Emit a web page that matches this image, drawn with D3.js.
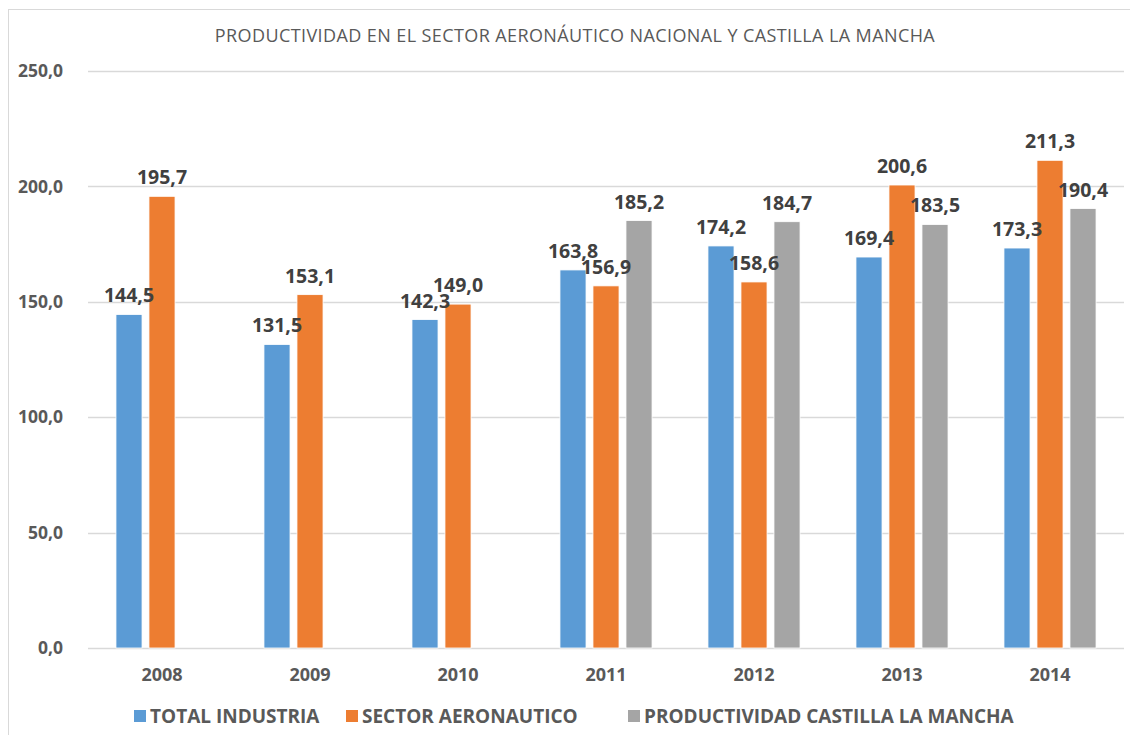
<!DOCTYPE html>
<html>
<head>
<meta charset="utf-8">
<script src="https://cdn.jsdelivr.net/npm/d3@7"></script>
<style>
  body { margin: 0; background: #fff; }
  svg { display: block; font-family: "Open Sans", "Noto Sans", sans-serif; }
</style>
</head>
<body>
<div id="chart"></div>
<script>
// Chart data
const years = ["2008", "2009", "2010", "2011", "2012", "2013", "2014"];
const seriesNames = ["TOTAL INDUSTRIA", "SECTOR AERONAUTICO", "PRODUCTIVIDAD CASTILLA LA MANCHA"];
const totalIndustria = [144.5, 131.5, 142.3, 163.8, 174.2, 169.4, 173.3];
const sectorAeronautico = [195.7, 153.1, 149.0, 156.9, 158.6, 200.6, 211.3];
const castillaLaMancha = [null, null, null, 185.2, 184.7, 183.5, 190.4];
const yTicks = [0, 50, 100, 150, 200, 250];
const colors = ["#5B9BD5", "#ED7D31", "#A5A5A5"];

const width = 1130, height = 735;
const margin = { top: 71, right: 6, bottom: 87, left: 88 };

const svg = d3.select("#chart")
  .append("svg")
  .attr("width", width)
  .attr("height", height);

// Outer frame
svg.append("rect")
  .attr("x", 8.5).attr("y", 9.5)
  .attr("width", width).attr("height", height)
  .attr("fill", "none")
  .attr("stroke", "#d9d9d9")
  .attr("stroke-width", 1);

const fmt = v => d3.format(".1f")(v).replace(".", ",");

const x0 = d3.scaleBand()
  .domain(years)
  .range([margin.left, width - margin.right])
  .paddingInner(0.331)
  .paddingOuter(0.1655);

const x1 = d3.scaleBand()
  .domain(d3.range(seriesNames.length))
  .range([0, x0.bandwidth()])
  .paddingInner(0.21)
  .paddingOuter(0.105);

const y = d3.scaleLinear()
  .domain([0, 250])
  .range([height - margin.bottom, margin.top]);

// Gridlines
svg.append("g")
  .selectAll("line")
  .data(yTicks)
  .enter()
  .append("line")
  .attr("x1", margin.left)
  .attr("x2", width - margin.right)
  .attr("y1", d => Math.round(y(d)) + 0.5)
  .attr("y2", d => Math.round(y(d)) + 0.5)
  .attr("stroke", "#d9d9d9")
  .attr("stroke-width", 1.3);

// Y axis labels
const yAxis = d3.axisLeft(y).tickValues(yTicks).tickFormat(fmt).tickSize(0).tickPadding(25);
svg.append("g")
  .attr("transform", `translate(${margin.left},0)`)
  .call(yAxis)
  .call(g => g.select(".domain").remove())
  .selectAll("text")
  .attr("font-size", "17.5px")
  .attr("font-weight", "bold")
  .attr("fill", "#595959")
  .attr("font-family", "'Open Sans', sans-serif");

// X axis labels
const xAxis = d3.axisBottom(x0).tickSize(0).tickPadding(20);
svg.append("g")
  .attr("transform", `translate(0,${height - margin.bottom})`)
  .call(xAxis)
  .call(g => g.select(".domain").remove())
  .selectAll("text")
  .attr("font-size", "18px")
  .attr("font-weight", "bold")
  .attr("fill", "#595959")
  .attr("font-family", "'Open Sans', sans-serif");

// Bars
const seriesValues = [totalIndustria, sectorAeronautico, castillaLaMancha];
const rows = years.map((yr, i) => ({
  year: yr,
  values: seriesValues.map((s, k) => ({ key: k, value: s[i] }))
}));

const groups = svg.append("g")
  .selectAll("g")
  .data(rows)
  .enter()
  .append("g")
  .attr("transform", d => `translate(${x0(d.year)},0)`);

groups.selectAll("rect")
  .data(d => d.values.filter(v => v.value != null))
  .enter()
  .append("rect")
  .attr("x", d => x1(d.key))
  .attr("width", x1.bandwidth())
  .attr("y", d => y(d.value))
  .attr("height", d => y(0) - y(d.value))
  .attr("fill", d => colors[d.key])
  .attr("stroke", "#fff")
  .attr("stroke-width", 0.8);

groups.selectAll("text")
  .data(d => d.values.filter(v => v.value != null))
  .enter()
  .append("text")
  .attr("x", d => x1(d.key) + x1.bandwidth() / 2)
  .attr("y", d => y(d.value) - 12)
  .attr("text-anchor", "middle")
  .attr("font-size", "19.5px")
  .attr("font-weight", "bold")
  .attr("fill", "#404040")
  .text(d => fmt(d.value));

// Title
svg.append("text")
  .attr("x", 575)
  .attr("y", 42)
  .attr("text-anchor", "middle")
  .attr("font-size", "18px")
  .attr("letter-spacing", "0.4px")
  .attr("fill", "#595959")
  .text("PRODUCTIVIDAD EN EL SECTOR AERONÁUTICO NACIONAL Y CASTILLA LA MANCHA");

// Legend
const legendX = [134, 346, 628];
const legend = svg.append("g")
  .selectAll("g")
  .data(seriesNames)
  .enter()
  .append("g")
  .attr("transform", (d, i) => `translate(${legendX[i]},710)`);

legend.append("rect")
  .attr("width", 12)
  .attr("height", 12)
  .attr("fill", (d, i) => colors[i]);

legend.append("text")
  .attr("x", 16)
  .attr("y", 12.5)
  .attr("font-size", "19px")
  .attr("font-weight", "bold")
  .attr("fill", "#595959")
  .text(d => d);
</script>
</body>
</html>
